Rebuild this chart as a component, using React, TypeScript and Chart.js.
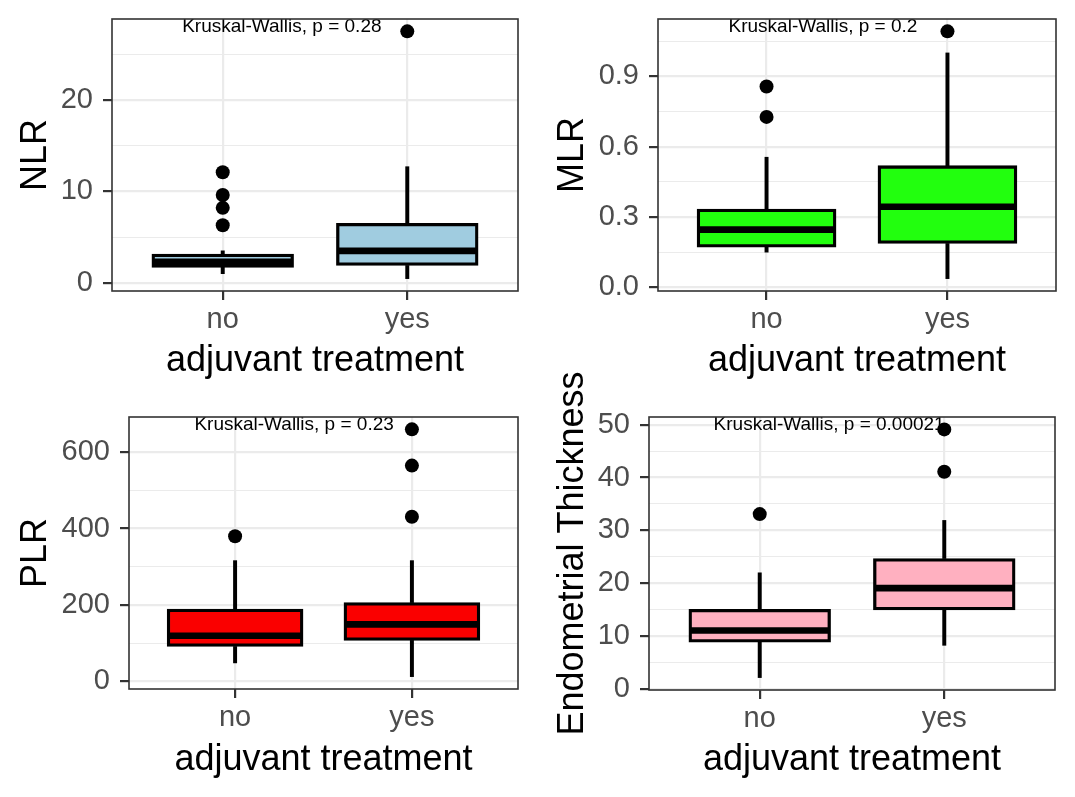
import React, { useEffect, useRef } from "react";
import { Chart, registerables } from "chart.js";
Chart.register(...registerables);

// ---------- data ----------
const categories = ["no", "yes"];
const xAxisTitle = "adjuvant treatment";

// NLR
const nlrLow = [1.0, 0.46];
const nlrQ1 = [1.7, 1.9];
const nlrMedian = [2.3, 3.5];
const nlrQ3 = [3.15, 6.5];
const nlrHigh = [3.5, 12.7];
const nlrOutliersNo = [12.1, 9.6, 8.2, 6.3];
const nlrOutliersYes = [27.5];
const nlrTicks = [0, 10, 20];

// MLR
const mlrLow = [0.15, 0.037];
const mlrQ1 = [0.171, 0.187];
const mlrMedian = [0.246, 0.344];
const mlrQ3 = [0.334, 0.519];
const mlrHigh = [0.555, 1.0];
const mlrOutliersNo = [0.857, 0.727];
const mlrOutliersYes = [1.092];
const mlrTicks = [0, 0.3, 0.6, 0.9];

// PLR
const plrLow = [48, 12];
const plrQ1 = [91, 107];
const plrMedian = [119, 149];
const plrQ3 = [189, 206];
const plrHigh = [316, 316];
const plrOutliersNo = [380];
const plrOutliersYes = [660, 565, 431];
const plrTicks = [0, 200, 400, 600];

// Endometrial Thickness
const etLow = [2.2, 8.3];
const etQ1 = [8.9, 15.0];
const etMedian = [11.1, 19.1];
const etQ3 = [15.1, 24.7];
const etHigh = [22, 31.9];
const etOutliersNo = [33.1];
const etOutliersYes = [49.1, 41.1];
const etTicks = [0, 10, 20, 30, 40, 50];

const pValueLabels = [
  "Kruskal-Wallis, p = 0.28",
  "Kruskal-Wallis, p = 0.2",
  "Kruskal-Wallis, p = 0.23",
  "Kruskal-Wallis, p = 0.00021",
];

// ---------- styling / layout ----------
const FONT = '"Liberation Sans", Arial, Helvetica, sans-serif';
const LINE_W = 3.3;

type PanelProps = {
  left: number; top: number; w: number; h: number;
  axisW: number; axisH: number; padTop: number; padRight: number;
  low: number[]; q1: number[]; med: number[]; q3: number[]; high: number[];
  outNo: number[]; outYes: number[]; ticks: number[]; decimals: number;
  fill: string; yTitle: string; pLabel: string; pLabelX: number;
};

const annotPlugin = {
  id: "annot",
  afterDatasetsDraw(chart: any, _args: any, opts: any) {
    const { ctx, chartArea: a, scales } = chart;
    ctx.save();
    ctx.beginPath();
    ctx.rect(a.left, a.top, a.right - a.left, a.bottom - a.top);
    ctx.clip();
    ctx.font = `19px ${FONT}`;
    ctx.fillStyle = "#000";
    ctx.textAlign = "left";
    ctx.textBaseline = "alphabetic";
    ctx.fillText(opts.text, scales.x.getPixelForValue(opts.x), a.top + 12.7);
    ctx.restore();
  },
  afterDraw(chart: any) {
    const { ctx, chartArea: a } = chart;
    ctx.save();
    ctx.strokeStyle = "#333333";
    ctx.lineWidth = 1.6;
    ctx.strokeRect(a.left, a.top, a.right - a.left, a.bottom - a.top);
    ctx.restore();
  },
};

function Panel(p: PanelProps) {
  const ref = useRef<HTMLCanvasElement>(null);
  useEffect(() => {
    if (!ref.current) return;
    const xs = [1, 2];
    const all = [...p.low, ...p.high, ...p.outNo, ...p.outYes];
    const dMin = Math.min(...all);
    const dMax = Math.max(...all);
    const r = dMax - dMin;
    const yMin = dMin - 0.05 * r;
    const yMax = dMax + 0.05 * r;
    const step = p.ticks[1] - p.ticks[0];
    const allTicks: number[] = [];
    for (let i = 0; i < p.ticks.length; i++) {
      allTicks.push(p.ticks[i]);
      const m1 = p.ticks[i] + step / 2;
      if (m1 <= yMax) allTicks.push(m1);
      if (i === 0 && p.ticks[0] - step / 2 >= yMin) allTicks.push(p.ticks[0] - step / 2);
    }
    const isMajor = (v: number) => p.ticks.some((t) => Math.abs(t - v) < 1e-9);
    const plotW = p.w - p.axisW - p.padRight;
    const boxW = (plotW / 2.2) * 0.75;

    const outliers = [
      ...p.outNo.map((v) => ({ x: 1, y: v })),
      ...p.outYes.map((v) => ({ x: 2, y: v })),
    ];

    const chart = new Chart(ref.current, {
      type: "bar",
      data: {
        datasets: [
          {
            type: "scatter",
            data: outliers,
            pointRadius: 7,
            pointBackgroundColor: "#000",
            pointBorderWidth: 0,
            order: 0,
          } as any,
          {
            type: "scatter",
            data: xs.map((x, i) => ({ x, y: p.med[i] })),
            pointStyle: "line",
            pointRadius: boxW / 2,
            pointBorderColor: "#000",
            pointBorderWidth: 6.6,
            order: 1,
          } as any,
          {
            type: "bar",
            data: xs.map((x, i) => ({ x, y: [p.q1[i], p.q3[i]] })),
            backgroundColor: p.fill,
            borderColor: "#000",
            borderWidth: LINE_W,
            borderSkipped: false,
            barThickness: boxW + LINE_W,
            grouped: false,
            order: 2,
          } as any,
          {
            type: "bar",
            data: xs.map((x, i) => ({ x, y: [p.q3[i], p.high[i]] })),
            backgroundColor: "#000",
            barThickness: LINE_W,
            grouped: false,
            order: 3,
          } as any,
          {
            type: "bar",
            data: xs.map((x, i) => ({ x, y: [p.low[i], p.q1[i]] })),
            backgroundColor: "#000",
            barThickness: LINE_W,
            grouped: false,
            order: 4,
          } as any,
        ],
      },
      options: {
        animation: false,
        responsive: false,
        events: [],
        layout: {
          autoPadding: false,
          padding: { left: 0, top: p.padTop, right: p.padRight, bottom: 0 },
        },
        plugins: {
          legend: { display: false },
          tooltip: { enabled: false },
          annot: { text: p.pLabel, x: p.pLabelX },
        } as any,
        scales: {
          x: {
            type: "linear",
            min: 0.4,
            max: 2.6,
            offset: false,
            afterBuildTicks: (s: any) => {
              s.ticks = xs.map((v) => ({ value: v }));
            },
            afterFit: (s: any) => {
              s.height = p.axisH;
              s.paddingLeft = 0;
              s.paddingRight = 0;
            },
            ticks: {
              autoSkip: false,
              maxRotation: 0,
              padding: 3,
              color: "#4D4D4D",
              font: { size: 29, family: FONT },
              callback: (v: any) => categories[Math.round(Number(v)) - 1] ?? "",
            },
            grid: {
              offset: false,
              color: "#EBEBEB",
              lineWidth: 2.2,
              drawTicks: true,
              tickLength: 9,
              tickColor: "#333333",
              tickWidth: 2.2,
            },
            border: { display: false },
            title: {
              display: true,
              text: xAxisTitle,
              color: "#000",
              font: { size: 36, family: FONT },
              padding: { top: 0, bottom: 15 },
            },
          } as any,
          y: {
            type: "linear",
            min: yMin,
            max: yMax,
            afterBuildTicks: (s: any) => {
              s.ticks = allTicks.sort((a, b) => a - b).map((v) => ({ value: v }));
            },
            afterFit: (s: any) => {
              s.width = p.axisW;
              s.paddingTop = 0;
              s.paddingBottom = 0;
            },
            ticks: {
              autoSkip: false,
              padding: 10,
              color: "#4D4D4D",
              font: { size: 29, family: FONT },
              callback: (v: any) => (isMajor(Number(v)) ? Number(v).toFixed(p.decimals) : ""),
            },
            grid: {
              color: "#EBEBEB",
              lineWidth: (c: any) => (c.tick && isMajor(c.tick.value) ? 2.2 : 1.1),
              drawTicks: true,
              tickLength: 9,
              tickColor: (c: any) => (c.tick && isMajor(c.tick.value) ? "#333333" : "rgba(0,0,0,0)"),
              tickWidth: 2.2,
            },
            border: { display: false },
            title: {
              display: true,
              text: p.yTitle,
              color: "#000",
              font: { size: 36, family: FONT },
              padding: { top: 14, bottom: 0 },
            },
          } as any,
        },
      },
      plugins: [annotPlugin as any],
    });
    return () => chart.destroy();
  }, []);
  return (
    <canvas
      ref={ref}
      width={p.w}
      height={p.h}
      style={{ position: "absolute", left: p.left, top: p.top, width: p.w, height: p.h }}
    />
  );
}

const panels: PanelProps[] = [
  {
    left: 0, top: 0, w: 537, h: 398, axisW: 112, axisH: 107, padTop: 19, padRight: 19,
    low: nlrLow, q1: nlrQ1, med: nlrMedian, q3: nlrQ3, high: nlrHigh,
    outNo: nlrOutliersNo, outYes: nlrOutliersYes, ticks: nlrTicks, decimals: 0,
    fill: "#A0CCE0", yTitle: "NLR", pLabel: pValueLabels[0], pLabelX: 0.78,
  },
  {
    left: 537, top: 0, w: 538, h: 398, axisW: 121, axisH: 107, padTop: 19, padRight: 19,
    low: mlrLow, q1: mlrQ1, med: mlrMedian, q3: mlrQ3, high: mlrHigh,
    outNo: mlrOutliersNo, outYes: mlrOutliersYes, ticks: mlrTicks, decimals: 1,
    fill: "#22FF0E", yTitle: "MLR", pLabel: pValueLabels[1], pLabelX: 0.79,
  },
  {
    left: 0, top: 398, w: 537, h: 399, axisW: 129, axisH: 108, padTop: 19, padRight: 19,
    low: plrLow, q1: plrQ1, med: plrMedian, q3: plrQ3, high: plrHigh,
    outNo: plrOutliersNo, outYes: plrOutliersYes, ticks: plrTicks, decimals: 0,
    fill: "#FA0000", yTitle: "PLR", pLabel: pValueLabels[2], pLabelX: 0.77,
  },
  {
    left: 537, top: 358, w: 538, h: 439, axisW: 112, axisH: 107, padTop: 59, padRight: 20,
    low: etLow, q1: etQ1, med: etMedian, q3: etQ3, high: etHigh,
    outNo: etOutliersNo, outYes: etOutliersYes, ticks: etTicks, decimals: 0,
    fill: "#FFB0C0", yTitle: "Endometrial Thickness", pLabel: pValueLabels[3], pLabelX: 0.75,
  },
];

export default function App() {
  return (
    <div style={{ position: "absolute", left: 0, top: 0, width: 1075, height: 797, background: "#fff" }}>
      {panels.map((p, i) => (
        <Panel key={i} {...p} />
      ))}
    </div>
  );
}
